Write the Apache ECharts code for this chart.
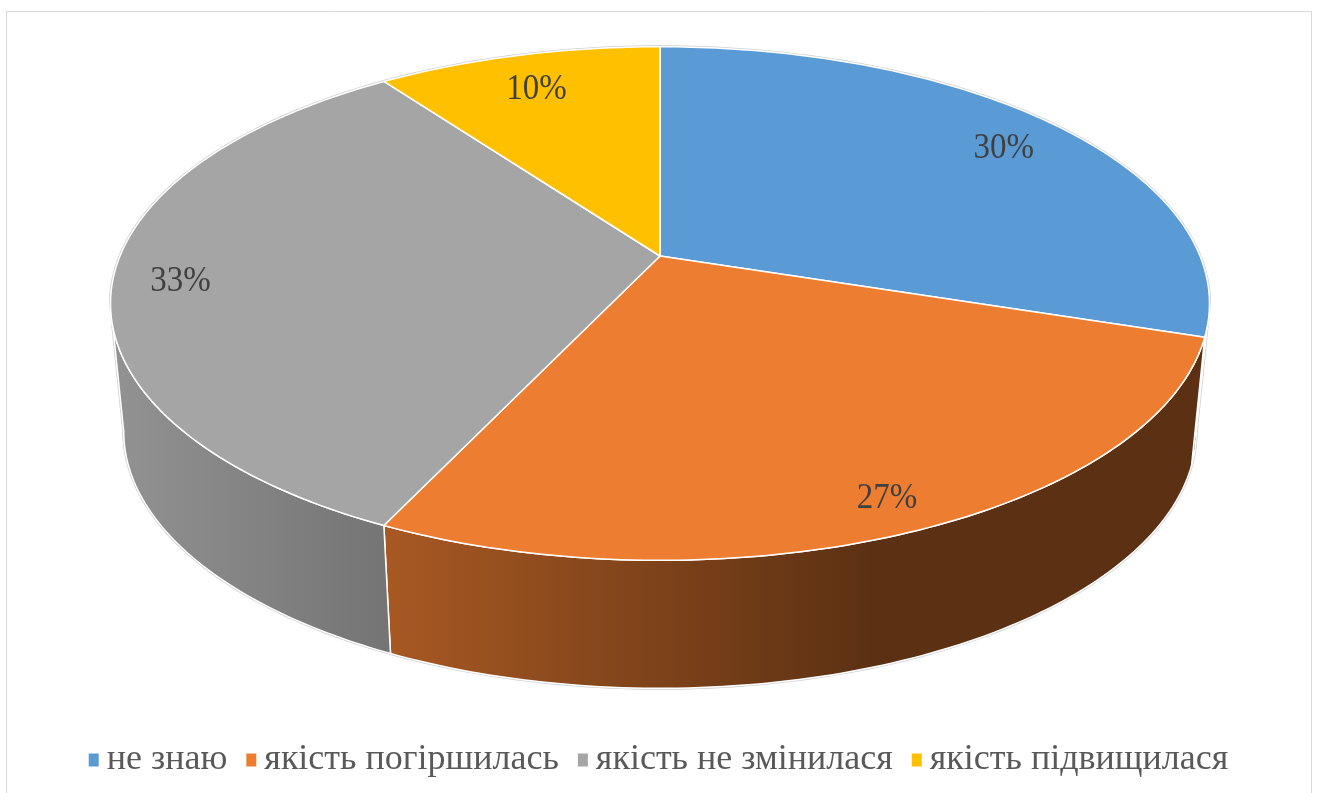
<!DOCTYPE html>
<html>
<head>
<meta charset="utf-8">
<script src="https://cdn.jsdelivr.net/npm/echarts@6/dist/echarts.min.js"></script>
<style>
  html, body { margin: 0; padding: 0; background: #fff; }
  #pie_chart { width: 1317px; height: 793px; }
</style>
</head>
<body>
<div id="pie_chart"></div>
<script>
const categories = ['не знаю', 'якість погіршилась', 'якість не змінилася', 'якість підвищилася'];
const values = [30, 27, 33, 10];
const colors = ['#5B9BD5', '#ED7D31', '#A5A5A5', '#FFC000'];

// 3d look: top face and bottom rim of the disc, seen in perspective
const topDisc = { cx: 660, cy: 256, a: 540, b: 248 };
const bottomDisc = { cx: 660, cy: 384, a: 527, b: 248 };
const K = 0.185;

function project(disc, deg, r) {
  const t = deg * Math.PI / 180;
  const u = r * Math.sin(t);
  const v = -r * Math.cos(t);
  const w = 1 - K * v;
  return [disc.cx + disc.a * u / w, disc.cy + disc.b * v / w];
}

function arc(disc, from, to) {
  let pts = [];
  let n = Math.max(2, Math.ceil(Math.abs(to - from)));
  for (let i = 0; i <= n; i++) {
    pts.push(project(disc, from + (to - from) * i / n, 1));
  }
  return pts;
}

function shade(hex, f) {
  let n = parseInt(hex.slice(1), 16);
  let r = Math.round(((n >> 16) & 255) * f);
  let g = Math.round(((n >> 8) & 255) * f);
  let b = Math.round((n & 255) * f);
  return 'rgb(' + r + ',' + g + ',' + b + ')';
}

const total = values.reduce((s, v) => s + v, 0);
let startAngles = [];
let acc = 0;
values.forEach(v => {
  startAngles.push(acc / total * 360);
  acc += v;
});

// side wall is visible between these angles (clockwise from 12 o'clock)
const edgeL = 90 + Math.asin(K) * 180 / Math.PI;
const edgeR = 270 - Math.asin(K) * 180 / Math.PI;

let series = [{
  type: 'custom',
  coordinateSystem: 'none',
  silent: true,
  z: 1,
  data: [0],
  renderItem: function () {
    return {
      type: 'polygon',
      shape: { points: arc(topDisc, edgeR, 360 + edgeL).concat(arc(bottomDisc, edgeL, edgeR)) },
      style: { fill: 'none', stroke: '#d0d0d0', lineWidth: 3, lineJoin: 'round' }
    };
  }
}];

categories.forEach((name, i) => {
  series.push({
    name: name,
    type: 'custom',
    coordinateSystem: 'none',
    silent: true,
    z: 2,
    itemStyle: { color: colors[i] },
    data: [values[i]],
    renderItem: function (params, api) {
      let s = startAngles[i];
      let e = s + api.value(0) / total * 360;
      let children = [];
      let a = Math.max(s, edgeL);
      let b = Math.min(e, edgeR);
      if (b > a) {
        children.push({
          type: 'polygon',
          z2: 1,
          shape: { points: arc(topDisc, a, b).concat(arc(bottomDisc, b, a)) },
          style: {
            fill: {
              type: 'linear', x: 124, y: 0, x2: 870, y2: 0, global: true,
              colorStops: [
                { offset: 0, color: shade(colors[i], 0.88) },
                { offset: 1, color: shade(colors[i], 0.39) }
              ]
            },
            stroke: '#fff', lineWidth: 1.5, lineJoin: 'round'
          }
        });
      }
      children.push({
        type: 'polygon',
        z2: 5,
        shape: { points: [[topDisc.cx, topDisc.cy]].concat(arc(topDisc, s, e)) },
        style: { fill: colors[i], stroke: '#fff', lineWidth: 1.5, lineJoin: 'round' }
      });
      // label sits just inside the rim
      let mid = (s + e) / 2;
      let p = project(topDisc, mid, 0.95);
      let ux = Math.sin(mid * Math.PI / 180);
      let uy = -Math.cos(mid * Math.PI / 180);
      children.push({
        type: 'text',
        z2: 9,
        x: p[0] - ux * 40,
        y: p[1] - uy * 22 + 5,
        scaleY: 1.1,
        style: {
          text: values[i] + '%',
          fill: '#404040',
          font: '33px "Liberation Serif"',
          align: 'center',
          verticalAlign: 'middle'
        }
      });
      return { type: 'group', children: children };
    }
  });
});

let option = {
  animation: false,
  graphic: [{
    type: 'rect',
    silent: true,
    shape: { x: 6.5, y: 11.5, width: 1305, height: 800 },
    style: { fill: 'none', stroke: '#d9d9d9', lineWidth: 1 }
  }],
  legend: {
    data: categories,
    top: 737,
    left: 'center',
    icon: 'path://M0,0H10V13H0Z',
    itemWidth: 16,
    itemHeight: 13,
    itemGap: 19,
    selectedMode: false,
    textStyle: {
      fontFamily: 'Liberation Serif',
      fontSize: 36,
      color: '#595959'
    }
  },
  series: series
};

let myChart = echarts.init(document.getElementById('pie_chart'));
myChart.setOption(option);
</script>
</body>
</html>
